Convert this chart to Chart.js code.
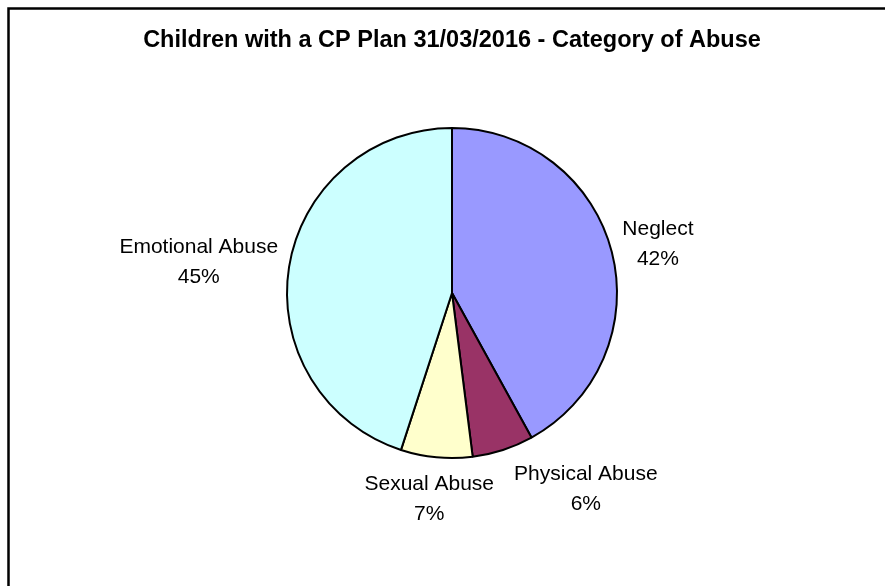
<!DOCTYPE html>
<html>
<head>
<meta charset="utf-8">
<title>Children with a CP Plan - Category of Abuse</title>
<script src="https://cdn.jsdelivr.net/npm/chart.js@4.4.1/dist/chart.umd.min.js"></script>
<style>
  html, body { margin: 0; padding: 0; background: #fff; }
  #wrap { width: 885px; height: 586px; }
</style>
</head>
<body>
<div id="wrap"><canvas id="abuseChart" width="885" height="586"></canvas></div>
<script>
// Children on a CP plan by category of abuse (percent)
const categories = ['Neglect', 'Physical Abuse', 'Sexual Abuse', 'Emotional Abuse'];
const shares = [42, 6, 7, 45];
const sliceColours = ['#9999FF', '#993366', '#FFFFCC', '#CCFFFF'];
const chartTitle = 'Children with a CP Plan 31/03/2016 - Category of Abuse';

const fontFamily = '"Liberation Sans", Arial, Helvetica, sans-serif';

// White background plus the black chart-area border
const framePlugin = {
    id: 'frame',
    beforeDraw(chart) {
        const ctx = chart.ctx;
        ctx.save();
        ctx.fillStyle = '#fff';
        ctx.fillRect(0, 0, chart.width, chart.height);
        ctx.strokeStyle = '#000';
        ctx.lineWidth = 2.5;
        ctx.strokeRect(8.5, 8.5, chart.width + 20, chart.height + 20);
        ctx.restore();
    }
};

// Category name and percentage outside each slice
const sliceLabels = {
    id: 'sliceLabels',
    afterDatasetsDraw(chart) {
        const ctx = chart.ctx;
        const meta = chart.getDatasetMeta(0);
        const total = shares.reduce((a, b) => a + b, 0);
        ctx.save();
        ctx.font = '21px ' + fontFamily;

        const boxes = meta.data.map((arc, i) => {
            const p = arc.getProps(['x', 'y', 'startAngle', 'endAngle', 'outerRadius'], true);
            const mid = (p.startAngle + p.endAngle) / 2;
            const dx = Math.cos(mid), dy = Math.sin(mid);
            const lines = [categories[i], Math.round(shares[i] / total * 100) + '%'];
            const halfW = Math.max(...lines.map(t => ctx.measureText(t).width)) / 2;
            const halfH = 28;
            const r = p.outerRadius + 12;
            return {
                lines, dx, dy, halfW, halfH,
                cx: p.x + r * dx + dx * halfW,
                cy: p.y + r * dy + dy * halfH
            };
        });

        // push overlapping labels apart sideways
        const gap = 20;
        for (let i = 0; i < boxes.length; i++) {
            for (let j = i + 1; j < boxes.length; j++) {
                const a = boxes[i], b = boxes[j];
                const ox = Math.min(a.cx + a.halfW, b.cx + b.halfW) - Math.max(a.cx - a.halfW, b.cx - b.halfW);
                const oy = Math.min(a.cy + a.halfH, b.cy + b.halfH) - Math.max(a.cy - a.halfH, b.cy - b.halfH);
                if (ox > -gap && oy > 0) {
                    const mover = Math.abs(a.dx) > Math.abs(b.dx) ? a : b;
                    const other = mover === a ? b : a;
                    if (mover.dx >= 0) mover.cx = other.cx + other.halfW + gap + mover.halfW;
                    else mover.cx = other.cx - other.halfW - gap - mover.halfW;
                }
            }
        }

        ctx.fillStyle = '#000';
        ctx.textAlign = 'center';
        ctx.textBaseline = 'alphabetic';
        boxes.forEach(b => {
            ctx.fillText(b.lines[0], b.cx, b.cy - 7.5);
            ctx.fillText(b.lines[1], b.cx, b.cy + 22.5);
        });
        ctx.restore();
    }
};

const ctx = document.getElementById('abuseChart').getContext('2d');
const abuseChart = new Chart(ctx, {
    type: 'pie',
    data: {
        labels: categories,
        datasets: [{
            data: shares,
            backgroundColor: sliceColours,
            borderColor: '#000',
            borderWidth: 2
        }]
    },
    options: {
        responsive: false,
        devicePixelRatio: 1,
        animation: false,
        events: [],
        radius: 165,
        layout: {
            padding: { left: 19, right: 0, top: 0, bottom: 74.2 }
        },
        plugins: {
            legend: { display: false },
            tooltip: { enabled: false },
            title: {
                display: true,
                text: chartTitle,
                color: '#000',
                font: { family: fontFamily, size: 23.5, weight: 'bold' },
                padding: { top: 26, bottom: 20 }
            }
        }
    },
    plugins: [framePlugin, sliceLabels]
});
</script>
</body>
</html>
